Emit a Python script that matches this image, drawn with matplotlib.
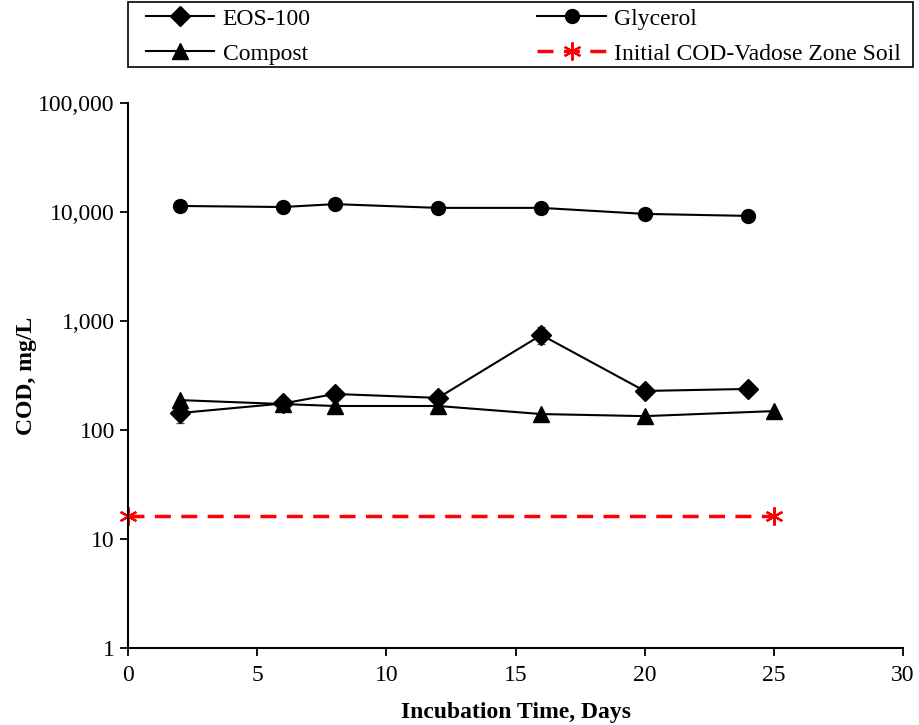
import matplotlib
matplotlib.use("Agg")
import matplotlib.pyplot as plt
from matplotlib.patches import Rectangle
from matplotlib.ticker import FuncFormatter, NullLocator, FixedLocator

plt.rcParams['font.family'] = ['Liberation Serif', 'DejaVu Serif']

# data
glycerol_days = [2, 6, 8, 12, 16, 20, 24]
glycerol_cod = [11350, 11100, 11800, 10900, 10900, 9600, 9200]
glycerol_err = [0, 0, 1200, 0, 0, 0, 0]

eos_days = [2, 6, 8, 12, 16, 20, 24]
eos_cod = [143, 175, 214, 197, 744, 228, 238]
eos_err = [27, 0, 0, 0, 130, 0, 0]

compost_days = [2, 6, 8, 12, 16, 20, 25]
compost_cod = [188, 173, 166, 166, 140, 134, 149]

initial_days = [0, 25]
initial_cod = [16.3, 16.3]

fig = plt.figure(figsize=(9.19, 7.25), dpi=100)
ax = fig.add_axes([0.1393, 0.1062, 0.8433, 0.7518])

ax.errorbar(eos_days, eos_cod, yerr=eos_err, fmt='none', ecolor='#555555',
            capsize=3, elinewidth=1.2)
ax.errorbar(glycerol_days, glycerol_cod, yerr=glycerol_err, fmt='none', ecolor='#555555',
            capsize=3, elinewidth=1.2)
eos_line, = ax.plot(eos_days, eos_cod, color='black', marker='D', markersize=10.5, lw=1.5)
gly_line, = ax.plot(glycerol_days, glycerol_cod, color='black', marker='o',
                    markersize=10, lw=1.5)
comp_line, = ax.plot(compost_days, compost_cod, color='black', marker='^',
                     markersize=11.5, lw=1.5)
init_line, = ax.plot(initial_days, initial_cod, color='red', ls=(0, (4.6, 3.0)), lw=2.5,
                     marker=(6, 2, 0), markersize=13, markeredgewidth=1.6, clip_on=False)

ax.set_yscale('log')
ax.set_ylim(1, 100000)
ax.set_xlim(0, 30)
ax.yaxis.set_major_locator(FixedLocator([1, 10, 100, 1000, 10000, 100000]))
ax.yaxis.set_minor_locator(NullLocator())
ax.yaxis.set_major_formatter(FuncFormatter(lambda v, p: f'{int(round(v)):,}'))
ax.set_xticks(range(0, 31, 5))

for s in ['top', 'right']:
    ax.spines[s].set_visible(False)
for s in ['left', 'bottom']:
    ax.spines[s].set_linewidth(1.5)
ax.tick_params(direction='out', length=6, width=1.3, labelsize=17)
ax.tick_params(axis='x', pad=6)

ax.set_xlabel('Incubation Time, Days', fontsize=17, fontweight='bold', labelpad=12)
ax.set_ylabel('COD, mg/L', fontsize=17, fontweight='bold', labelpad=1)

handles = [eos_line, comp_line, gly_line, init_line]
labels = ['EOS-100', 'Compost', 'Glycerol', 'Initial COD-Vadose Zone Soil']
leg = fig.legend(handles, labels, ncol=2, loc='upper left',
                 bbox_to_anchor=(146 / 919, 1 - 8 / 725),
                 fontsize=17, frameon=False,
                 handlelength=2.9, handletextpad=0.35, borderaxespad=0, borderpad=0,
                 labelspacing=0.57, columnspacing=9.6)
# legend frame drawn separately so the padding matches
fig.patches.append(Rectangle((128 / 919, 1 - 67 / 725), 785 / 919, 65 / 725,
                             transform=fig.transFigure, fill=False,
                             edgecolor='black', lw=1.2))

fig.savefig('out.png', dpi=100)
